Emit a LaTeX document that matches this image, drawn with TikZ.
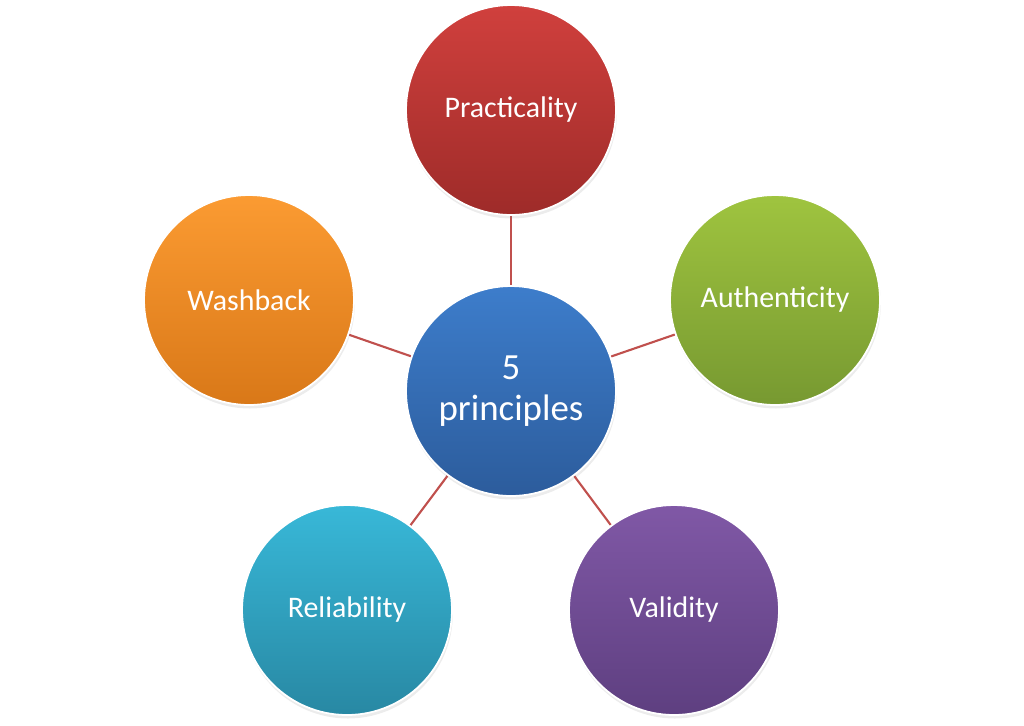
\documentclass[tikz,border=0pt]{standalone}
\usepackage{fontspec}
\setmainfont{Carlito}
\usepackage{xcolor}
\usepackage{tikz}
\usetikzlibrary{shadows,backgrounds}
\definecolor{redtop}{HTML}{D0403D}
\definecolor{redbot}{HTML}{9E2B29}
\definecolor{bluetop}{HTML}{3D7DCB}
\definecolor{bluebot}{HTML}{2C5C9C}
\definecolor{greentop}{HTML}{9FC43F}
\definecolor{greenbot}{HTML}{779931}
\definecolor{purptop}{HTML}{8058A6}
\definecolor{purpbot}{HTML}{5E3F80}
\definecolor{cyantop}{HTML}{38B8D8}
\definecolor{cyanbot}{HTML}{2888A3}
\definecolor{orantop}{HTML}{FB9B32}
\definecolor{oranbot}{HTML}{D97818}
\definecolor{linkred}{HTML}{C0504D}

\begin{document}
\begin{tikzpicture}[x=0.02cm,y=-0.02cm,
  ball/.style={circle,minimum size=4.2cm,inner sep=0pt,draw=white,line width=1pt,
    text=white,font=\fontsize{17}{20}\selectfont,align=center,
    drop shadow={shadow xshift=0.5pt,shadow yshift=-2pt,opacity=0.15}},
  link/.style={linkred,line width=1.2pt}]
\useasboundingbox (0,0) rectangle (1024,725);
\node[ball,top color=bluetop,bottom color=bluebot,font=\fontsize{21}{23}\selectfont] (hub) at (511,391) {5\\principles};
\node[ball,top color=redtop,bottom color=redbot] (prac) at (511,110) {Practicality};
\node[ball,top color=greentop,bottom color=greenbot] (auth) at (775,300) {Authenticity};
\node[ball,top color=purptop,bottom color=purpbot] (vali) at (674,610) {Validity};
\node[ball,top color=cyantop,bottom color=cyanbot] (reli) at (347,610) {Reliability};
\node[ball,top color=orantop,bottom color=oranbot] (wash) at (249,300) {Washback};
\begin{scope}[on background layer]
\draw[link] (hub)--(prac);
\draw[link] (hub)--(auth);
\draw[link] (hub)--(vali);
\draw[link] (hub)--(reli);
\draw[link] (hub)--(wash);
\end{scope}
\end{tikzpicture}
\end{document}
